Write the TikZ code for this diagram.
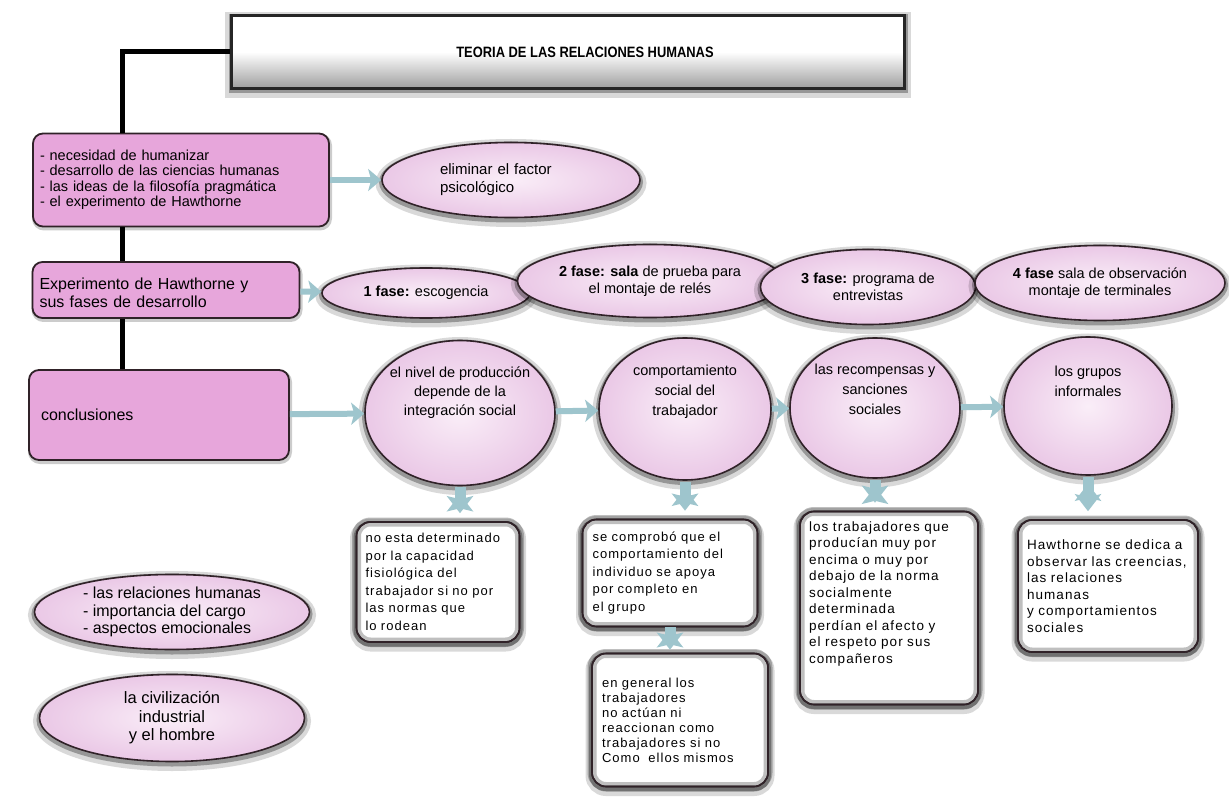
\documentclass[tikz,border=0pt]{standalone}
\usepackage{fontspec}
\setmainfont{Liberation Sans}
\newfontfamily\espaciada[LetterSpace=8]{Liberation Sans}
\newfontfamily\angosta[FakeStretch=0.86]{Liberation Sans}
\usetikzlibrary{shapes.geometric,arrows.meta}
\definecolor{rosa}{RGB}{231,166,219}
\definecolor{rosaclaro}{RGB}{250,238,248}
\definecolor{rosamedio}{RGB}{234,200,230}
\definecolor{borde}{RGB}{48,34,40}
\definecolor{celeste}{RGB}{158,197,205}
\newcommand{\fuente}[2]{\fontsize{#1}{#2}\selectfont}
\begin{document}
\begin{tikzpicture}[x=1pt,y=-1pt]
\tikzstyle{sombra}=[preaction={draw=black,line width=13pt,opacity=.15,transform canvas={yshift=-3pt}},preaction={draw=black,line width=6pt,opacity=.3,transform canvas={yshift=-2pt}}];
\tikzstyle{titulo}=[rectangle,draw=black!85,line width=2.5pt,top color=white,bottom color=black!38,middle color=white,minimum width=673pt,minimum height=73pt,font=\angosta\bfseries\fuente{15}{17},sombra];
\tikzstyle{caja}=[rectangle,rounded corners=10pt,draw=borde,line width=1.8pt,fill=rosa,align=left,inner xsep=7pt,preaction={draw=black,line width=4pt,opacity=.2,transform canvas={xshift=1pt,yshift=-2pt}}];
\tikzstyle{elip}=[ellipse,draw=borde,line width=1.6pt,inner color=rosaclaro,outer color=rosamedio,align=center,inner sep=0pt,sombra];
\tikzstyle{nota}=[rectangle,rounded corners=14pt,draw=borde,line width=1.6pt,fill=white,align=left,inner xsep=9pt,font=\espaciada\fuente{13}{17.5},sombra,postaction={draw=black,line width=9pt,opacity=.25},postaction={draw=borde,line width=1.6pt}];
\tikzstyle{flecha}=[celeste,line width=6pt,-{Stealth[length=13pt,width=22pt,inset=3pt]}];
\tikzstyle{bajada}=[celeste,line width=11pt,-{Stealth[length=17pt,width=26pt,inset=3pt]}];
\useasboundingbox [fill=white] (0,0) rectangle (1229,802);
% titulo y linea
\node [titulo] (v0) at (568,52) {\hspace*{34pt}TEORIA DE LAS RELACIONES HUMANAS};
\coordinate (k) at (122,0);
% columna izquierda
\node [caja,minimum width=296pt,minimum height=93pt,text width=282pt,font=\fuente{14.5}{15.5}] (v1) at (181,180) {- necesidad de humanizar\\- desarrollo de las ciencias humanas\\- las ideas de la filosofía pragmática\\- el experimento de Hawthorne};
\node [elip,minimum width=258pt,minimum height=75pt,align=left,text width=142pt,font=\fuente{15}{18}] (v2) at (511,180) {eliminar el factor\\psicológico};
\node [caja,minimum width=267pt,minimum height=56pt,text width=253pt,text depth=12pt,font=\fuente{16}{18}] (v3) at (166,290) {Experimento de Hawthorne y\\sus fases de desarrollo};
% fases
\node [elip,minimum width=208pt,minimum height=50pt,font=\fuente{14.5}{17}] (v4) at (426,293) {\textbf{1 fase:} escogencia};
\node [elip,minimum width=265pt,minimum height=73pt,inner xsep=-6pt,font=\fuente{14.5}{17}] (v5) at (650,281) {\textbf{2 fase: sala} de prueba para\\el montaje de relés};
\node [elip,minimum width=215pt,minimum height=75pt,font=\fuente{14.5}{17}] (v6) at (868,287) {\textbf{3 fase:} programa de\\entrevistas};
\node [elip,minimum width=250pt,minimum height=75pt,inner xsep=-10pt,font=\fuente{14.5}{17}] (v7) at (1100,283) {\textbf{4 fase} sala de observación\\montaje de terminales};
% conclusiones
\node [caja,minimum width=260pt,minimum height=90pt,text width=236pt,inner xsep=12pt,font=\fuente{16}{18}] (v8) at (159,415) {conclusiones};
\node [elip,minimum width=190pt,minimum height=145pt,inner xsep=-12pt,text depth=44pt,font=\fuente{14.5}{19}] (v9) at (460,413) {el nivel de producción\\depende de la\\integración social};
\node [elip,minimum width=172pt,minimum height=142pt,inner xsep=-10pt,text depth=38pt,font=\fuente{14.5}{20}] (v10) at (685,409) {comportamiento\\social del\\trabajador};
\node [elip,minimum width=170pt,minimum height=140pt,inner xsep=-12pt,text depth=38pt,font=\fuente{14.5}{20}] (v11) at (875,408) {las recompensas y\\sanciones\\sociales};
\node [elip,minimum width=168pt,minimum height=138pt,inner xsep=-8pt,text depth=50pt,font=\fuente{14.5}{20}] (v12) at (1088,406) {los grupos\\informales};
% notas
\node [nota,minimum width=163pt,minimum height=120pt,text width=145pt] (v13) at (438,582) {no esta determinado\\por la capacidad\\fisiológica del\\trabajador si no por\\las normas que\\lo rodean};
\node [nota,minimum width=175pt,minimum height=107pt,text width=155pt] (v14) at (670,573) {se comprobó que el\\comportamiento del\\individuo se apoya\\por completo en\\el grupo};
\node [nota,minimum width=176pt,minimum height=133pt,text width=156pt,font=\espaciada\fuente{13}{15}] (v15) at (680,720) {en general los\\trabajadores\\no actúan ni\\reaccionan como\\trabajadores si no\\Como~ ellos mismos};
\node [nota,minimum width=178pt,minimum height=193pt,text width=160pt,text depth=163pt,font=\espaciada\fuente{13.5}{16.5}] (v16) at (889,608) {los trabajadores que\\producían muy por\\encima o muy por\\debajo de la norma\\socialmente\\determinada\\perdían el afecto y\\el respeto por sus\\compañeros};
\node [nota,minimum width=177pt,minimum height=132pt,text width=162pt,font=\espaciada\fuente{13.5}{16.5}] (v17) at (1108,586) {Hawthorne se dedica a\\observar las creencias,\\las relaciones\\humanas\\y comportamientos\\sociales};
% elipses sueltas
\node [elip,minimum width=275pt,minimum height=75pt,align=left,font=\fuente{16}{17.5}] (v18) at (172,612) {- las relaciones humanas\\- importancia del cargo\\- aspectos emocionales};
\node [elip,minimum width=265pt,minimum height=87pt,font=\fuente{16.5}{18.5}] (v19) at (172,718) {la civilización\\industrial\\y el hombre};
% conectores
\draw [line width=5pt] (v0.west) -| (k |- v1.north);
\draw [line width=5pt] (k |- v1.south) -- (k |- v3.north);
\draw [line width=5pt] (k |- v3.south) -- (k |- v8.north);
\draw [flecha] (v1) edge (v2);
\draw [flecha] (v3) edge (v4);
\draw [flecha] (v8) edge (v9);
\draw [flecha] (v9) edge (v10);
\draw [flecha] (v10) edge (v11);
\draw [flecha] (v11) edge (v12);
\draw [bajada,shorten <=1pt,shorten >=8pt] (v9.south) edge (v9.south |- v13.north);
\draw [bajada,shorten <=1pt,shorten >=8pt] (v10.south) edge (v10.south |- v14.north);
\draw [bajada,shorten <=1pt,shorten >=8pt] (v11.south) edge (v11.south |- v16.north);
\draw [bajada,shorten <=1pt,shorten >=8pt] (v12.south) edge (v12.south |- v17.north);
\draw [bajada,shorten >=3pt] (v14.south) edge (v14.south |- v15.north);
\end{tikzpicture}
\end{document}
